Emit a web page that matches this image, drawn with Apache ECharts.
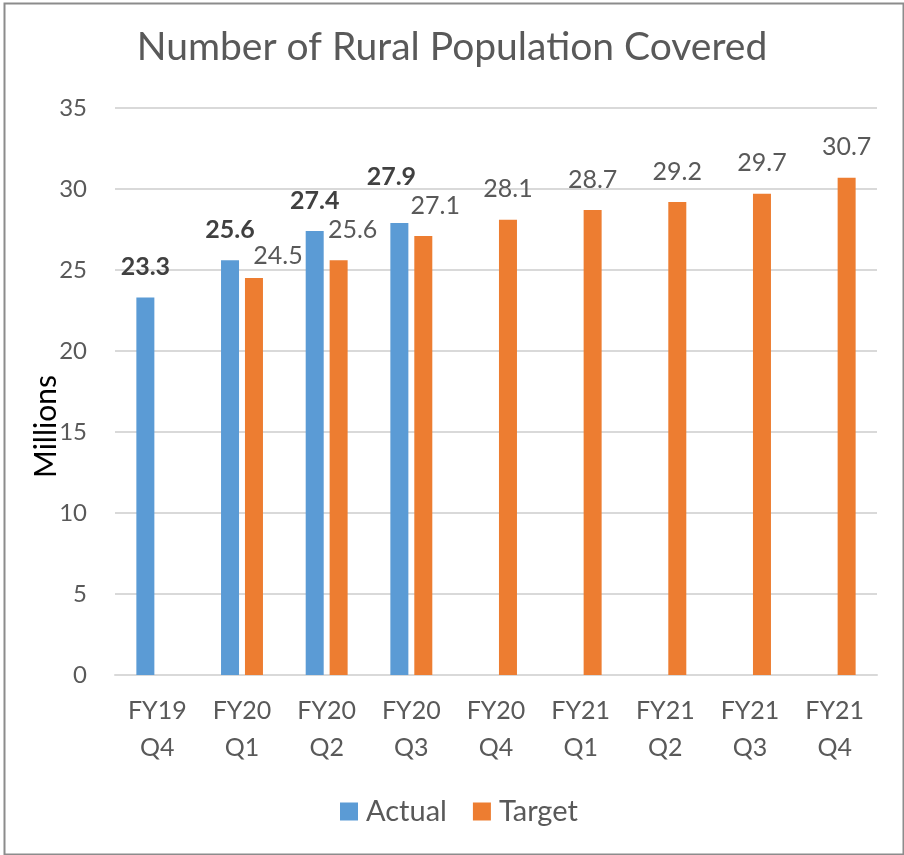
<!DOCTYPE html>
<html><head><meta charset="utf-8">
<script src="https://cdn.jsdelivr.net/npm/echarts@6/dist/echarts.min.js"></script>
<style>html,body{margin:0;padding:0;background:#fff}#c{width:904px;height:855px}</style>
</head><body><div id="c"></div>
<script>
var categories = ['FY19\nQ4','FY20\nQ1','FY20\nQ2','FY20\nQ3','FY20\nQ4','FY21\nQ1','FY21\nQ2','FY21\nQ3','FY21\nQ4'];
var actualValues = [23.3, 25.6, 27.4, 27.9, null, null, null, null, null];
var targetValues = [null, 24.5, 25.6, 27.1, 28.1, 28.7, 29.2, 29.7, 30.7];
var yTicks = [0, 5, 10, 15, 20, 25, 30, 35];

var FONT = 'Lato, "Open Sans", sans-serif';
// label nudges (as in the reference, where some labels were moved to avoid overlap)
var actualNudge = {3: [-8, -16]};
var targetNudge = {1: [24, 8], 2: [14, 0], 3: [12, 0]};

function buildData(vals, nudge) {
  return vals.map(function (v, i) {
    if (v == null) return null;
    var o = {value: v};
    if (nudge[i]) o.label = {offset: nudge[i]};
    return o;
  });
}

var chart = echarts.init(document.getElementById('c'), null, {renderer: 'canvas'});
chart.setOption({
  animation: false,
  backgroundColor: '#fff',
  title: {
    text: 'Number of Rural Population Covered',
    left: 'center', top: 23,
    textStyle: {fontFamily: FONT, fontSize: 39, fontWeight: 'normal', color: '#595959'}
  },
  legend: {
    top: 792, left: 335,
    itemWidth: 18, itemHeight: 18, itemGap: 26,
    icon: 'rect',
    textStyle: {fontFamily: FONT, fontSize: 29, color: '#595959', padding: [0, 0, 0, 3]},
    data: ['Actual', 'Target']
  },
  grid: {left: 115, right: 27, top: 108, bottom: 180, containLabel: false},
  xAxis: {
    type: 'category', data: categories,
    axisLine: {lineStyle: {color: '#d9d9d9', width: 2}},
    axisTick: {show: false},
    axisLabel: {fontFamily: FONT, fontSize: 25, color: '#595959', lineHeight: 37, margin: 17}
  },
  yAxis: {
    type: 'value', min: yTicks[0], max: yTicks[yTicks.length - 1], interval: yTicks[1] - yTicks[0],
    name: 'Millions', nameLocation: 'middle', nameGap: 54, nameRotate: 90,
    nameMoveOverlap: false,
    nameTextStyle: {fontFamily: FONT, fontSize: 30, color: '#000', padding: [0, 70, 0, 0]},
    axisLine: {show: false}, axisTick: {show: false},
    splitLine: {lineStyle: {color: '#d9d9d9', width: 2}},
    axisLabel: {fontFamily: FONT, fontSize: 24, color: '#595959', margin: 28}
  },
  series: [
    {
      name: 'Actual', type: 'bar', data: buildData(actualValues, actualNudge),
      barWidth: 18, barGap: '33%',
      itemStyle: {color: '#5B9BD5'},
      label: {show: true, position: 'top', distance: 18, fontFamily: FONT, fontSize: 25,
        fontWeight: 'bold', color: '#404040'}
    },
    {
      name: 'Target', type: 'bar', data: buildData(targetValues, targetNudge),
      barWidth: 18,
      itemStyle: {color: '#ED7D31'},
      label: {show: true, position: 'top', distance: 18, fontFamily: FONT, fontSize: 25,
        color: '#595959'}
    }
  ],
  graphic: [{
    type: 'rect', left: 2, top: 1, z: 100,
    shape: {x: 0, y: 0, width: 899, height: 851},
    style: {fill: 'none', stroke: '#8c8c8c', lineWidth: 2}
  }]
});
</script></body></html>
